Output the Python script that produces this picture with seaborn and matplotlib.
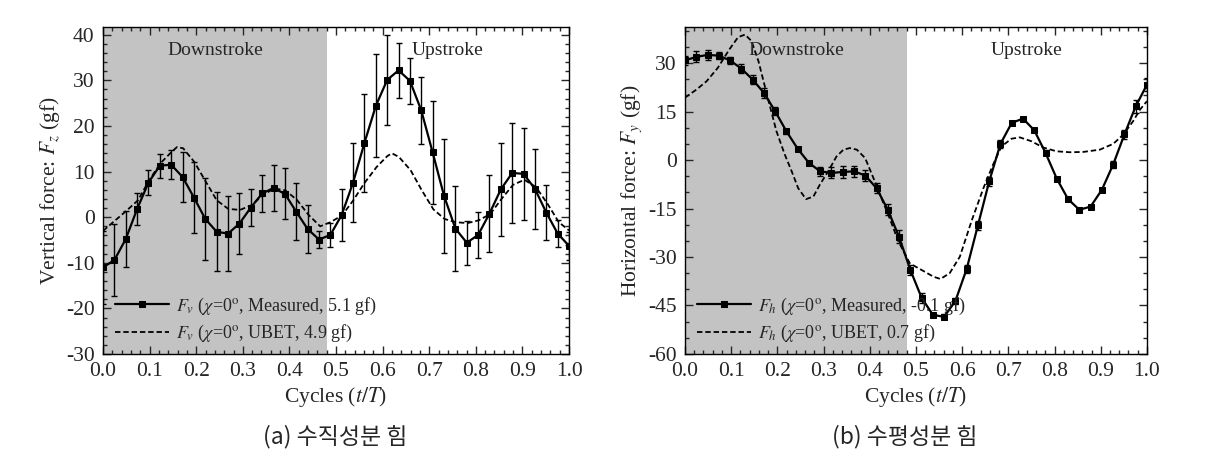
import numpy as np
import pandas as pd
import matplotlib
matplotlib.use('Agg')
import matplotlib.pyplot as plt
from matplotlib.ticker import MultipleLocator
import seaborn as sns

# measured points, 42 samples over one cycle
t_meas = np.linspace(0, 1, 42)

fz_meas = [-11.0, -9.4, -4.8, 1.8, 7.6, 11.3, 11.5, 8.8, 4.3, -0.4, -3.2, -3.6, -1.4, 2.1,
           5.2, 6.4, 5.1, 1.2, -2.6, -4.9, -3.9, 0.5, 7.6, 16.3, 24.4, 30.1, 32.2, 29.9,
           23.4, 14.2, 4.7, -2.5, -5.6, -3.9, 0.8, 6.1, 9.7, 9.5, 6.2, 1.0, -3.6, -6.3]
fz_err = [8.0, 7.9, 6.1, 3.6, 2.8, 2.6, 3.2, 5.5, 7.8, 9.0, 8.7, 8.3, 6.7, 4.1,
          4.0, 5.1, 5.6, 6.3, 5.3, 1.8, 2.7, 5.7, 8.7, 10.8, 11.3, 9.8, 6.0, 5.1,
          7.4, 11.3, 12.5, 9.4, 4.8, 5.0, 8.5, 10.2, 11.0, 10.1, 8.8, 6.0, 2.9, 3.0]

fy_meas = [30.8, 31.9, 32.5, 32.3, 30.8, 28.3, 24.9, 20.8, 15.1, 8.9, 3.5, -0.9, -3.5, -4.0,
           -3.7, -3.5, -4.8, -8.7, -15.4, -23.8, -34.0, -42.6, -47.9, -48.5, -43.6, -33.7,
           -20.2, -6.6, 5.0, 11.5, 12.8, 9.2, 2.2, -5.8, -12.1, -15.4, -14.4, -9.2, -1.4,
           7.9, 16.6, 23.3]
fy_err = [1.5, 1.7, 1.5, 1.0, 1.2, 1.3, 1.5, 1.5, 1.2, 0.8, 0.5, 0.5, 1.3, 1.7,
          1.8, 1.8, 1.8, 1.5, 1.7, 2.0, 1.5, 1.5, 0.6, 0.8, 0.8, 1.2, 1.3, 1.5,
          1.2, 0.6, 0.5, 0.5, 0.8, 0.5, 0.5, 0.5, 0.5, 0.5, 1.2, 1.5, 2.0, 2.0]

# UBET prediction curves
t_ubet_z = [0.000, 0.049, 0.075, 0.099, 0.123, 0.147, 0.159, 0.172, 0.196, 0.221, 0.244,
            0.269, 0.294, 0.318, 0.343, 0.367, 0.391, 0.416, 0.441, 0.466, 0.488, 0.513,
            0.537, 0.561, 0.587, 0.610, 0.620, 0.635, 0.660, 0.684, 0.709, 0.733, 0.757,
            0.782, 0.806, 0.831, 0.855, 0.880, 0.904, 0.929, 0.954, 0.978, 1.000]
fz_ubet = [-3.0, 1.3, 3.7, 8.1, 11.8, 14.3, 15.4, 15.1, 12.1, 7.7, 3.7,
           1.8, 1.6, 2.6, 4.8, 6.3, 5.9, 3.8, 0.5, -2.0, -1.1, 0.4,
           3.7, 7.5, 11.0, 13.4, 14.0, 13.2, 10.3, 5.9, 1.7, -0.4, -1.1,
           -1.3, -0.7, 0.7, 4.0, 7.1, 8.2, 6.6, 2.9, -1.1, -2.9]

t_ubet_y = [0.000, 0.025, 0.047, 0.071, 0.096, 0.115, 0.130, 0.144, 0.159, 0.170, 0.184,
            0.198, 0.216, 0.231, 0.245, 0.262, 0.278, 0.292, 0.310, 0.328, 0.343, 0.357,
            0.372, 0.390, 0.408, 0.422, 0.440, 0.462, 0.487, 0.512, 0.538, 0.553, 0.573,
            0.595, 0.620, 0.646, 0.667, 0.685, 0.707, 0.725, 0.750, 0.775, 0.804, 0.833,
            0.862, 0.898, 0.927, 0.949, 0.970, 0.985, 1.000]
fy_ubet = [19.3, 21.8, 24.4, 28.5, 34.2, 38.0, 38.8, 36.8, 30.6, 24.4, 16.6,
           8.9, 1.7, -3.5, -8.7, -12.1, -11.3, -7.6, -3.5, 1.1, 3.2, 3.7,
           3.2, 0.6, -5.6, -10.7, -16.9, -25.2, -32.0, -34.0, -36.1, -36.8, -35.0,
           -29.9, -19.0, -8.7, -1.4, 4.2, 6.6, 7.0, 5.8, 3.9, 2.7, 2.4,
           2.5, 3.2, 5.0, 7.9, 12.0, 15.6, 18.2]

sns.set_style('ticks')
plt.rcParams['font.family'] = ['Liberation Serif', 'DejaVu Serif']
plt.rcParams['mathtext.fontset'] = 'stix'
plt.rcParams['axes.unicode_minus'] = False

fig = plt.figure(figsize=(12.28, 4.51), dpi=100)
ax1 = fig.add_axes([0.0839, 0.2151, 0.3795, 0.724])
ax2 = fig.add_axes([0.5578, 0.2151, 0.3762, 0.724])

panels = [
    (ax1, fz_meas, fz_err, t_ubet_z, fz_ubet, 'v', '5.1', '4.9', (-30, 41.6), 10, 2,
     r'Vertical force: $F_z$ (gf)'),
    (ax2, fy_meas, fy_err, t_ubet_y, fy_ubet, 'h', '-0.1', '0.7', (-60, 41.0), 15, 5,
     r'Horizontal force: $F_y$ (gf)'),
]

for ax, meas, err, tu, ub, sub, mval, uval, ylim, ymaj, ymin, ylab in panels:
    ax.axvspan(0, 0.48, color='#c3c3c3', lw=0, zorder=0)
    ax.errorbar(t_meas, meas, yerr=err, fmt='none', ecolor='k', elinewidth=1.0,
                capsize=2.5, capthick=1.0, zorder=2)
    sns.lineplot(x=t_meas, y=meas, ax=ax, color='k', lw=1.6, marker='s', markersize=5,
                 markeredgecolor='k', markerfacecolor='k', zorder=3,
                 label=r'$F_%s$ ($\chi$=0$^{\rm o}$, Measured, %s gf)' % (sub, mval))
    sns.lineplot(x=tu, y=ub, ax=ax, color='k', lw=1.3, linestyle=(0, (3, 1.6)), zorder=3,
                 label=r'$F_%s$ ($\chi$=0$^{\rm o}$, UBET, %s gf)' % (sub, uval))
    ax.set_xlim(0, 1)
    ax.set_ylim(*ylim)
    ax.xaxis.set_major_locator(MultipleLocator(0.1))
    ax.xaxis.set_minor_locator(MultipleLocator(0.02))
    ax.yaxis.set_major_locator(MultipleLocator(ymaj))
    ax.yaxis.set_minor_locator(MultipleLocator(ymin))
    ax.xaxis.set_major_formatter(plt.FuncFormatter(lambda v, p: '%.1f' % v))
    ax.tick_params(which='both', direction='in', top=True, right=True, labelsize=15.5,
                   width=1.0, pad=6)
    ax.tick_params(which='major', length=6)
    ax.tick_params(which='minor', length=3)
    for s in ax.spines.values():
        s.set_linewidth(1.0)
        s.set_color('k')
    ax.set_xlabel(r'Cycles ($t/T$)', fontsize=15.5, labelpad=3)
    ax.set_ylabel(ylab, fontsize=15.5, labelpad=3)
    ax.text(0.24, 0.93, 'Downstroke', transform=ax.transAxes, ha='center', va='center',
            fontsize=14)
    ax.text(0.74, 0.93, 'Upstroke', transform=ax.transAxes, ha='center', va='center',
            fontsize=14)
    ax.legend(loc='lower left', bbox_to_anchor=(-0.01, -0.02), frameon=False, fontsize=13,
              handlelength=3.0, handletextpad=0.4, labelspacing=0.35)

fig.text(0.273, 0.033, '(a) 수직성분 힘', ha='center', va='center', fontsize=16.5,
         family=['Noto Sans CJK KR', 'DejaVu Sans'])
fig.text(0.737, 0.033, '(b) 수평성분 힘', ha='center', va='center', fontsize=16.5,
         family=['Noto Sans CJK KR', 'DejaVu Sans'])

fig.savefig('out.png', dpi=100, facecolor='white')
